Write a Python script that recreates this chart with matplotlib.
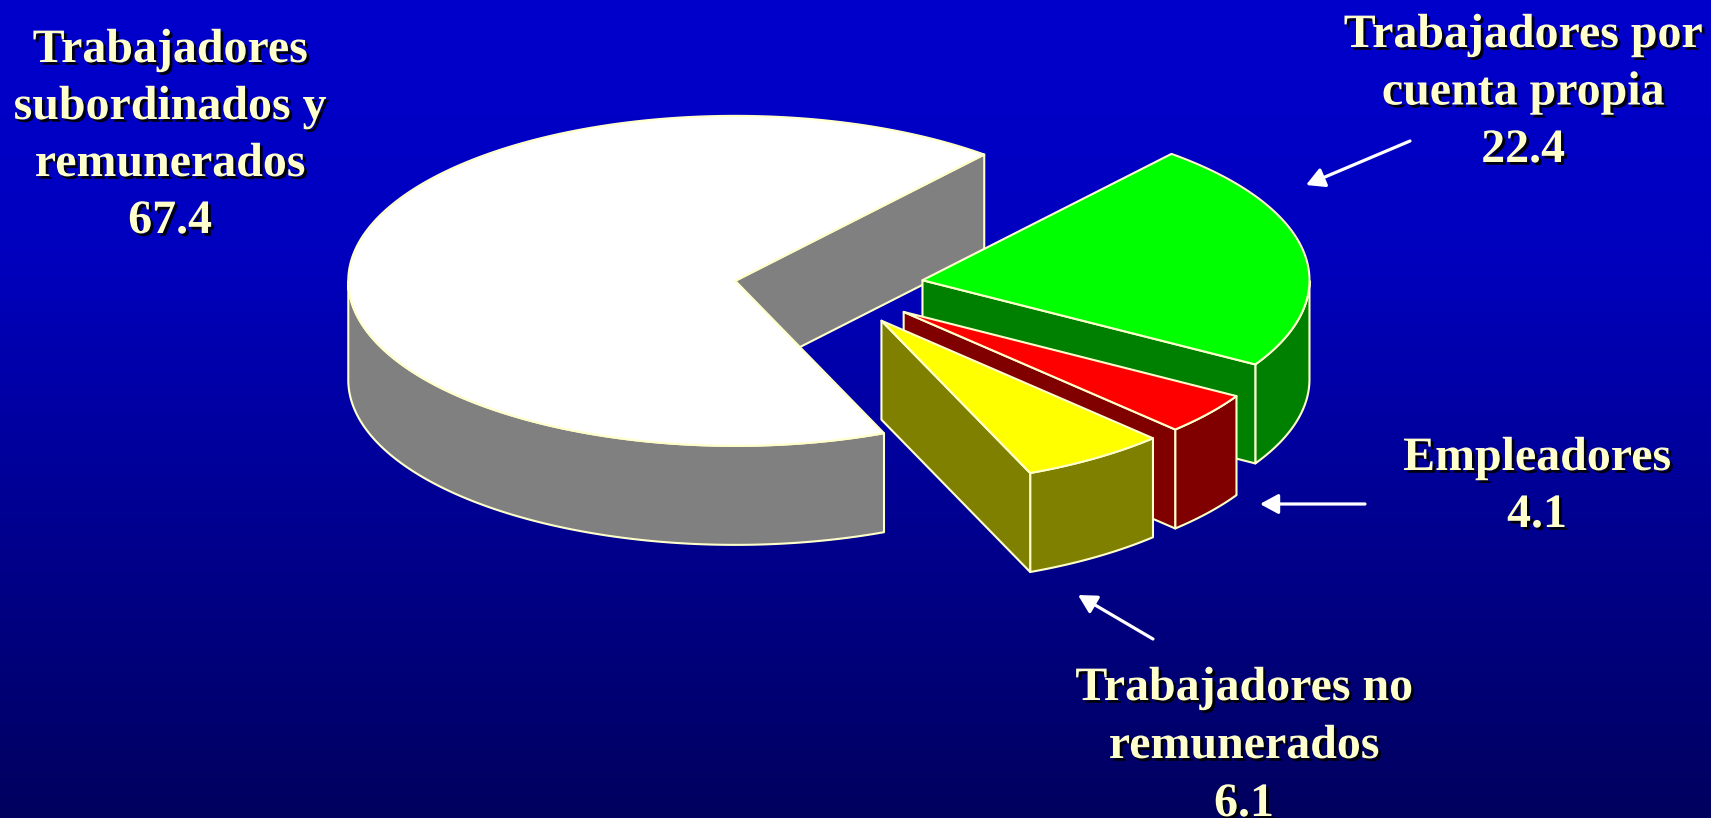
import numpy as np
import matplotlib
matplotlib.use("Agg")
import matplotlib.pyplot as plt
from matplotlib.patches import Polygon, FancyArrowPatch, ArrowStyle
import matplotlib.patheffects as pe

# ---- data -------------------------------------------------------------
categories = [
    "Trabajadores subordinados y remunerados",
    "Trabajadores por cuenta propia",
    "Empleadores",
    "Trabajadores no remunerados",
]
values = [67.4, 22.4, 4.1, 6.1]
name_lines = [
    ["Trabajadores", "subordinados y", "remunerados"],
    ["Trabajadores por", "cuenta propia"],
    ["Empleadores"],
    ["Trabajadores no", "remunerados"],
]

# ---- styling / layout ---------------------------------------------------
top_colors = ["#FFFFFF", "#00FF00", "#FF0000", "#FFFF00"]
side_colors = ["#808080", "#008000", "#800000", "#808000"]
edge_color = "#FFFFCC"
text_color = "#FFFFCC"

W, H = 1711, 818
start_angle = 292.6          # slices run clockwise from here
pie_center = (829, 287)
rx, ry = 387, 165            # projected ellipse radii
depth = 99
explode = 0.245              # fraction of the radius

label_anchor = [(170, 62), (1523, 47), (1537, 470), (1244, 700)]
line_pitch = [57, 57.5, 57, 58]

arrows = [
    ((1410, 141), (1306, 185)),
    ((1365, 504), (1260, 504)),
    ((1153, 639), (1078, 595)),
]

fig = plt.figure(figsize=(W / 100, H / 100), dpi=100)
ax = fig.add_axes([0, 0, 1, 1])
ax.set_xlim(0, W)
ax.set_ylim(H, 0)
ax.axis("off")

# background: blue vertical gradient
yy = np.linspace(0, 1, 400)
level = np.where(yy < 0.3, 0.80 - 0.05 * yy / 0.3, 0.75 - (0.75 - 0.37) * (yy - 0.3) / 0.7)
grad = np.zeros((400, 2, 3))
grad[:, :, 2] = level[:, None]
ax.imshow(grad, extent=[0, W, H, 0], aspect="auto", zorder=0, interpolation="bilinear")


def ellipse_pts(cx, cy, t_deg, dz=0.0):
    t = np.radians(t_deg)
    return np.column_stack([cx + rx * np.cos(t), cy - ry * np.sin(t) + dz])


def add_poly(pts, fc, z):
    ax.add_patch(Polygon(pts, closed=True, facecolor=fc, edgecolor=edge_color,
                         linewidth=1.5, joinstyle="round", zorder=z))


total = sum(values)
hi = start_angle
z = 2
for i, v in enumerate(values):
    span = 360.0 * v / total
    lo = hi - span
    mid = np.radians((lo + hi) / 2)
    cx = pie_center[0] + explode * rx * np.cos(mid)
    cy = pie_center[1] - explode * ry * np.sin(mid)

    # outer wall: parts of the rim that face the viewer
    ts = np.linspace(lo, hi, int(span * 4) + 2)
    front = np.sin(np.radians(ts)) < 1e-9
    runs, cur = [], []
    for t, f in zip(ts, front):
        if f:
            cur.append(t)
        elif cur:
            runs.append(cur)
            cur = []
    if cur:
        runs.append(cur)
    for run in runs:
        run = np.array(run)
        top = ellipse_pts(cx, cy, run)
        bot = ellipse_pts(cx, cy, run[::-1], depth)
        add_poly(np.vstack([top, bot]), side_colors[i], z)

    # radial cut faces
    for ang, normal in ((lo, lo - 90), (hi, hi + 90)):
        if np.sin(np.radians(normal)) < 0:
            p = ellipse_pts(cx, cy, np.array([ang]))[0]
            face = [(cx, cy), tuple(p), (p[0], p[1] + depth), (cx, cy + depth)]
            add_poly(face, side_colors[i], z)

    # top face
    arc = ellipse_pts(cx, cy, np.linspace(lo, hi, int(span * 4) + 2))
    add_poly(np.vstack([[cx, cy], arc]), top_colors[i], z + 1)

    hi = lo
    z += 2

# labels
shadow = [pe.SimplePatchShadow(offset=(2.0, -2.0), shadow_rgbFace="#000000", alpha=0.9), pe.Normal()]
for i, v in enumerate(values):
    lines = name_lines[i] + [f"{v:.1f}"]
    x0, y0 = label_anchor[i]
    for k, line in enumerate(lines):
        ax.text(x0, y0 + k * line_pitch[i], line, ha="center", va="baseline",
                fontsize=34.5, fontweight="bold", family="Liberation Serif",
                color=text_color, path_effects=shadow, zorder=20)

# pointer arrows
style = ArrowStyle("-|>", head_length=11, head_width=6)
for tail, head in arrows:
    ax.add_patch(FancyArrowPatch(tail, head, arrowstyle=style, mutation_scale=1,
                                 color="white", linewidth=2.3, shrinkA=0, shrinkB=0,
                                 zorder=20))

fig.savefig("out.png", dpi=100)
